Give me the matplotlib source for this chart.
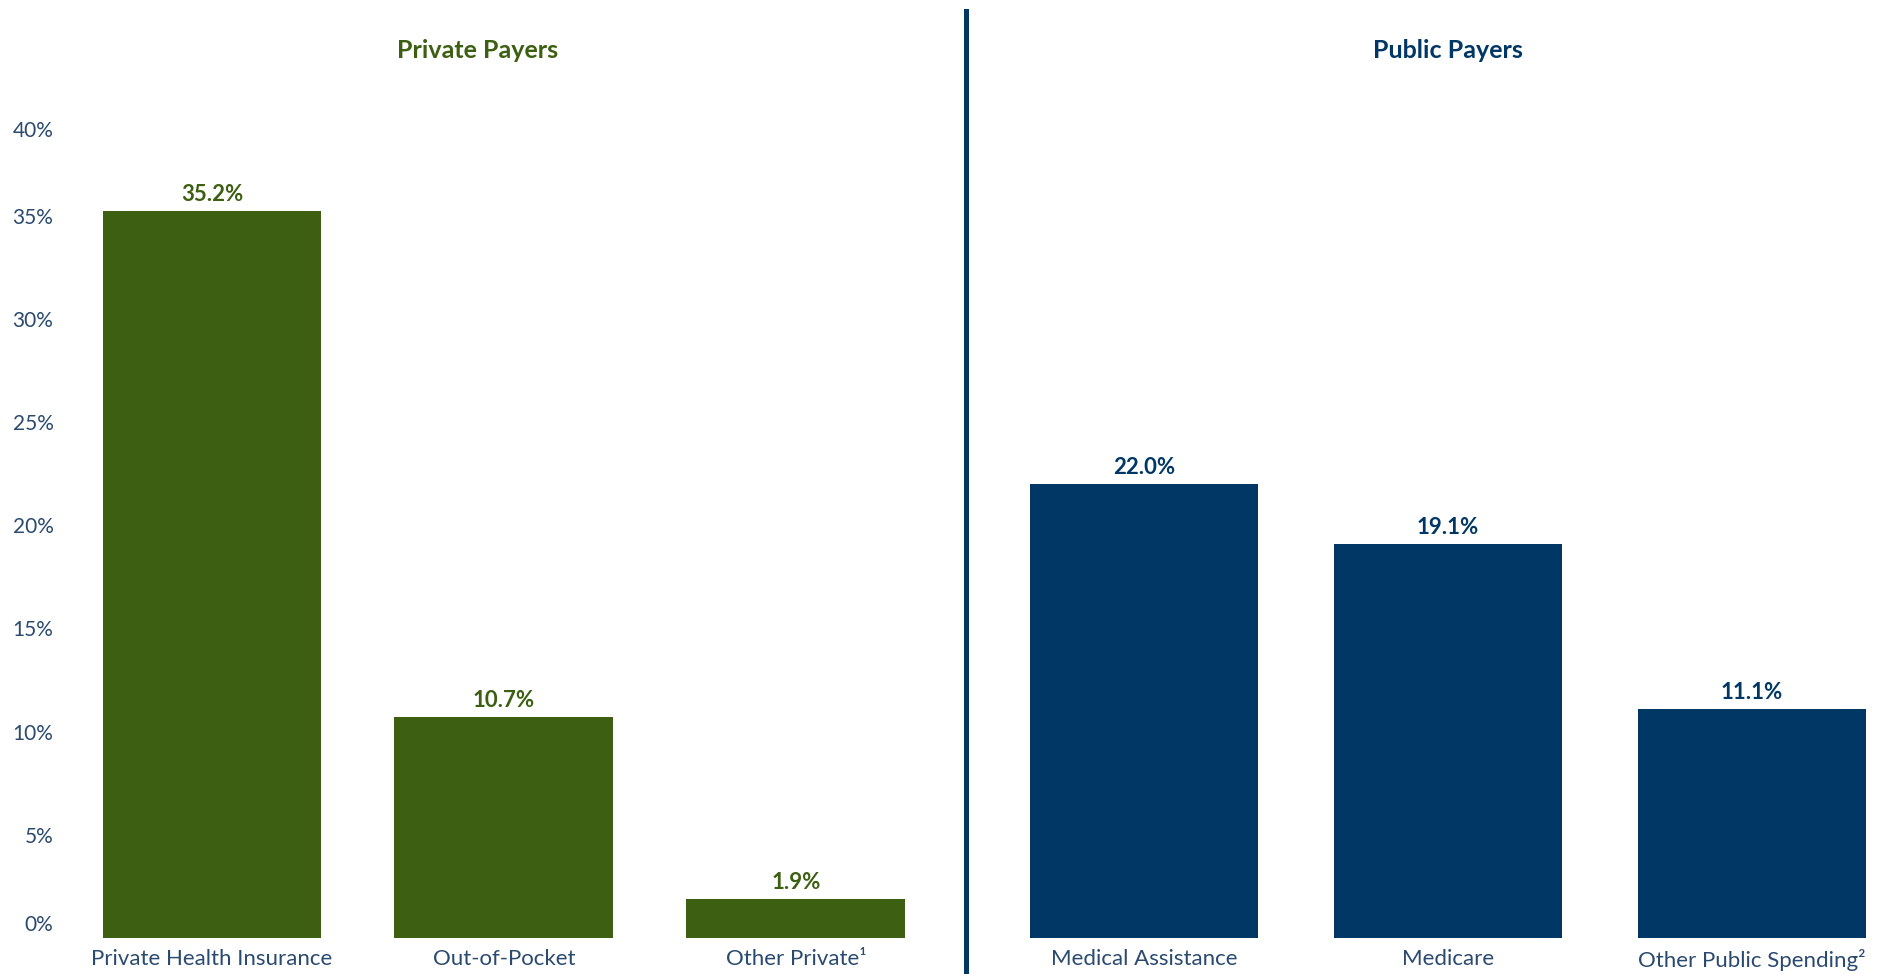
import matplotlib.pyplot as plt
import matplotlib.transforms as mtransforms
import numpy as np

plt.rcParams.update({
    "font.family": ["Lato", "DejaVu Sans"],
    "font.size": 16,
})

# data
private_labels = ["Private Health Insurance", "Out-of-Pocket", "Other Private\u00b9"]
private_vals = [35.2, 10.7, 1.9]
public_labels = ["Medical Assistance", "Medicare", "Other Public Spending\u00b2"]
public_vals = [22.0, 19.1, 11.1]
yticks = [0, 5, 10, 15, 20, 25, 30, 35, 40]

GREEN = "#3D5F12"
BLUE = "#003764"
TICK = "#2B4A6F"

W, H = 1878, 974
fig = plt.figure(figsize=(W / 100, H / 100), dpi=100)

bottom = 1 - 938 / H
height = (938 - 71) / H
ax1 = fig.add_axes([66 / W, bottom, (942 - 66) / W, height])
ax2 = fig.add_axes([992 / W, bottom, (1878 - 992) / W, height])

def draw(ax, labels, vals, color, xlim):
    x = np.arange(len(vals))
    bars = ax.bar(x, vals, width=0.75, color=color)
    for b, v in zip(bars, vals):
        ax.text(b.get_x() + b.get_width() / 2, v + 0.3, f"{v:.1f}%",
                ha="center", va="bottom", color=color, fontweight="bold", fontsize=16)
    ax.set_xticks(x)
    ax.set_xticklabels(labels, color=TICK, fontsize=16)
    ax.set_xlim(*xlim)
    ax.set_ylim(0, 42)
    for s in ax.spines.values():
        s.set_visible(False)
    ax.tick_params(axis="both", length=0)
    ax.tick_params(axis="x", pad=8)

draw(ax1, private_labels, private_vals, GREEN, (-0.5, 2.5))
draw(ax2, public_labels, public_vals, BLUE, (-0.5, 2.414))

ax1.set_yticks(yticks)
ax1.set_yticklabels([f"{t}%" for t in yticks], color=TICK, fontsize=15)
ax1.tick_params(axis="y", pad=9)
ax2.set_yticks([])

# the end labels sit a little inward in the original
ylabs = ax1.get_yticklabels()
ylabs[0].set_transform(ylabs[0].get_transform() +
                       mtransforms.ScaledTranslation(0, 11 / 72, fig.dpi_scale_trans))
ylabs[-1].set_transform(ylabs[-1].get_transform() +
                        mtransforms.ScaledTranslation(0, -12 / 72, fig.dpi_scale_trans))

fig.text(478 / W, 1 - 50 / H, "Private Payers", ha="center", va="center",
         color=GREEN, fontweight="bold", fontsize=18)
fig.text(1448 / W, 1 - 50 / H, "Public Payers", ha="center", va="center",
         color=BLUE, fontweight="bold", fontsize=18)

# divider between the two panels
fig.add_artist(plt.Line2D([966 / W, 966 / W], [0, 1 - 11 / H],
                          transform=fig.transFigure, color=BLUE, linewidth=3.6))

fig.savefig("out.png", dpi=100)
